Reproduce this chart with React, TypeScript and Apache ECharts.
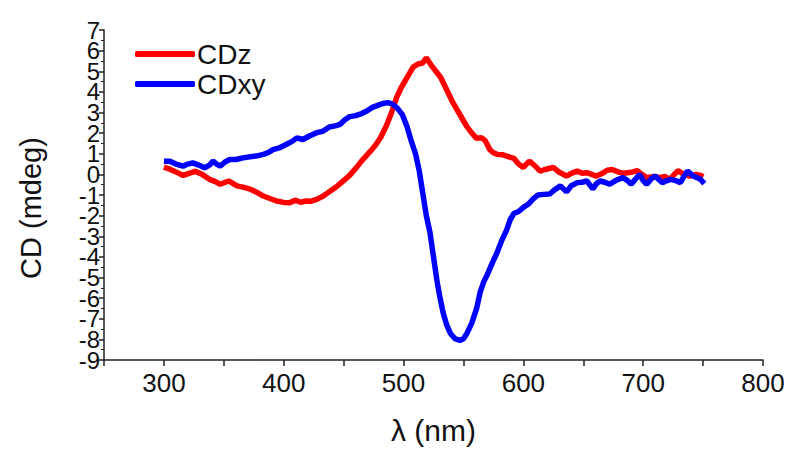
import React, { useEffect, useRef } from "react";
import * as echarts from "echarts";

const czWavelength = [300,305,310,316,321,326,332,338,343,347,354,361,366,372,378,383,389,394,400,405,410,414,419,423,428,433,439,444,450,455,461,466,472,477,481,486,490,494,498,503,508,512,516,519,523,527,531,536,541,546,550,553,557,561,565,568,572,575,578,583,588,592,596,600,605,609,614,619,625,630,636,640,645,649,653,657,661,666,670,674,679,684,690,695,699,703,709,714,718,722,726,729,734,739,744,748,750];
const czValues = [0.35,0.25,0.12,-0.05,0.05,0.15,0.0,-0.24,-0.35,-0.48,-0.32,-0.56,-0.62,-0.72,-0.88,-1.05,-1.18,-1.29,-1.36,-1.37,-1.25,-1.35,-1.29,-1.3,-1.2,-1.05,-0.8,-0.6,-0.3,-0.05,0.35,0.72,1.1,1.45,1.8,2.4,3.0,3.7,4.2,4.7,5.2,5.35,5.4,5.65,5.3,5.0,4.7,4.1,3.5,3.0,2.6,2.3,2.0,1.75,1.78,1.65,1.2,1.05,0.97,0.95,0.85,0.78,0.5,0.34,0.64,0.45,0.16,0.25,0.34,0.1,-0.08,0.05,0.16,0.05,0.08,0.0,-0.08,0.05,0.2,0.24,0.12,0.05,0.1,0.18,0.0,-0.16,-0.1,-0.16,-0.1,-0.24,0.0,0.18,0.0,-0.08,0.0,-0.05,-0.12];

const cxyWavelength = [300,305,310,316,320,324,329,334,338,341,344,347,351,355,360,366,372,378,383,387,391,397,402,407,411,416,421,427,433,438,443,447,451,455,460,465,469,474,480,484,487,491,495,499,503,506,510,513,516,519,522,524,526,528,530.5,533,536,539,543,547,550,553,557,561,564,567,570,574,578,582,586,589,592,596,600,604,608,612,617,622,626,631,636,640,645,649,653,658,661,664,668,672,677,683,687,690,694,697,700,703,707,710,713,716,720,723,727,731,734,737,741,745,748,751];
const cxyValues = [0.64,0.64,0.5,0.4,0.5,0.56,0.45,0.32,0.45,0.64,0.5,0.4,0.6,0.72,0.72,0.8,0.85,0.9,0.97,1.05,1.2,1.3,1.45,1.6,1.77,1.69,1.85,2.01,2.1,2.3,2.35,2.42,2.65,2.8,2.85,2.95,3.06,3.25,3.38,3.45,3.48,3.4,3.2,2.9,2.3,1.7,1.0,0.2,-0.9,-2.0,-2.8,-3.6,-4.4,-5.2,-6.0,-6.7,-7.3,-7.7,-7.97,-8.05,-7.97,-7.7,-7.2,-6.5,-5.7,-5.2,-4.85,-4.3,-3.8,-3.2,-2.7,-2.2,-1.9,-1.8,-1.6,-1.45,-1.2,-1.0,-0.97,-0.95,-0.75,-0.56,-0.85,-0.55,-0.4,-0.38,-0.32,-0.7,-0.45,-0.32,-0.38,-0.48,-0.3,-0.16,-0.3,-0.48,-0.2,0.0,-0.3,-0.48,-0.2,-0.08,-0.25,-0.4,-0.3,-0.24,-0.3,-0.4,-0.1,0.16,-0.05,-0.16,-0.25,-0.45];

const seriesNames = ["CDz", "CDxy"];
const xAxisTitle = "λ (nm)";
const yAxisTitle = "CD (mdeg)";
const xMin = 250, xMax = 800, xInterval = 50;
const yMin = -9, yMax = 7, yInterval = 1;

const FONT = "Arial, 'Liberation Sans', sans-serif";

export default function App() {
  const ref = useRef<HTMLDivElement>(null);
  useEffect(() => {
    if (!ref.current) return;
    const chart = echarts.init(ref.current, undefined, { renderer: "svg" });
    const pair = (xs: number[], ys: number[]) => xs.map((x, i) => [x, ys[i]]);
    const yLabelBase = {
      fontSize: 24,
      color: "#111",
      fontFamily: FONT,
      margin: 4,
      hideOverlap: false,
    };
    chart.setOption({
      animation: false,
      backgroundColor: "#ffffff",
      grid: { left: 104, right: 32, top: 30, bottom: 89, containLabel: false },
      legend: {
        orient: "vertical",
        left: 130,
        top: 35,
        itemWidth: 60,
        itemHeight: 6,
        itemGap: 2,
        icon: "roundRect",
        textStyle: { fontSize: 28, color: "#111", fontFamily: FONT, padding: [0, 0, 0, -3] },
        data: seriesNames,
      },
      graphic: [
        {
          type: "text",
          x: 31,
          y: 208,
          rotation: Math.PI / 2,
          style: {
            text: yAxisTitle,
            fontSize: 29,
            fill: "#111",
            fontFamily: FONT,
            textAlign: "center",
            textVerticalAlign: "middle",
          },
        },
      ],
      xAxis: {
        type: "value",
        min: xMin,
        max: xMax,
        interval: xInterval,
        name: xAxisTitle,
        nameLocation: "middle",
        nameGap: 55,
        nameTextStyle: { fontSize: 30, color: "#111", fontFamily: FONT },
        axisLine: { onZero: false, lineStyle: { color: "#222", width: 1.5 } },
        axisTick: { length: 6, lineStyle: { color: "#222", width: 1.5 } },
        splitLine: { show: false },
        axisLabel: {
          fontSize: 26,
          color: "#111",
          fontFamily: FONT,
          margin: 10,
          formatter: (v: number) => (v % 100 === 0 ? String(v) : ""),
        },
      },
      yAxis: [
        {
          type: "value",
          position: "left",
          min: yMin,
          max: yMax,
          interval: yInterval,
          axisLine: { show: true, onZero: false, lineStyle: { color: "#222", width: 1.5 } },
          axisTick: { show: true, length: 5, lineStyle: { color: "#222", width: 1.5 } },
          minorTick: { show: true, splitNumber: 2, length: 3, lineStyle: { color: "#222" } },
          splitLine: { show: false },
          axisLabel: {
            ...yLabelBase,
            showMinLabel: true,
            showMaxLabel: true,
            formatter: (v: number) => (Math.abs(v) % 2 === 1 ? String(v) : ""),
          },
        },
        {
          type: "value",
          position: "left",
          offset: 0,
          min: yMin,
          max: yMax,
          interval: yInterval,
          axisLine: { show: false, onZero: false },
          axisTick: { show: false },
          splitLine: { show: false },
          axisLabel: {
            ...yLabelBase,
            showMinLabel: false,
            showMaxLabel: false,
            formatter: (v: number) => (Math.abs(v) % 2 === 0 ? String(v) : ""),
          },
        },
      ],
      series: [
        {
          name: seriesNames[0],
          type: "line",
          yAxisIndex: 0,
          data: pair(czWavelength, czValues),
          showSymbol: false,
          symbol: "none",
          lineStyle: { color: "#ff0000", width: 5.5 },
          itemStyle: { color: "#ff0000" },
          z: 2,
        },
        {
          name: seriesNames[1],
          type: "line",
          yAxisIndex: 0,
          data: pair(cxyWavelength, cxyValues),
          showSymbol: false,
          symbol: "none",
          lineStyle: { color: "#0000ff", width: 5.5 },
          itemStyle: { color: "#0000ff" },
          z: 3,
        },
      ],
    });
    return () => chart.dispose();
  }, []);
  return <div ref={ref} style={{ width: 795, height: 450, position: "absolute", left: 0, top: 0 }} />;
}
